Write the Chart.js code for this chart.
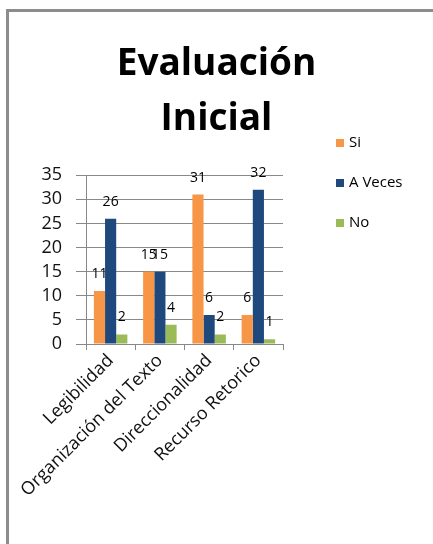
<!DOCTYPE html>
<html>
<head>
<meta charset="utf-8">
<script src="https://cdn.jsdelivr.net/npm/chart.js@4/dist/chart.umd.min.js"></script>
<style>
  body { margin: 0; background: #fff; }
  #wrap { position: relative; width: 433px; height: 544px; overflow: hidden; }
  #frame { position: absolute; left: 6px; top: 9px; width: 440px; height: 550px;
           border-top: 3px solid #8c8c8c; border-left: 3px solid #8c8c8c; pointer-events: none; }
  canvas { position: absolute; left: 0; top: 0; }
</style>
</head>
<body>
<div id="wrap">
  <canvas id="chart" width="433" height="544"></canvas>
  <div id="frame"></div>
</div>
<script>
// datos del grafico
const categorias = ['Legibilidad', 'Organización del Texto', 'Direccionalidad', 'Recurso Retorico'];
const valoresSi = [11, 15, 31, 6];
const valoresAVeces = [26, 15, 6, 32];
const valoresNo = [2, 4, 2, 1];
const nombresSeries = ['Si', 'A Veces', 'No'];
const coloresSeries = ['#f79646', '#1f497d', '#9bbb59'];
const ticksY = [0, 5, 10, 15, 20, 25, 30, 35];

const fuente = "'Open Sans', 'Liberation Sans', sans-serif";

// etiquetas encima de cada barra
const etiquetasBarras = {
    id: 'etiquetasBarras',
    afterDatasetsDraw(chart) {
        const ctx = chart.ctx;
        ctx.save();
        ctx.font = '14px ' + fuente;
        ctx.fillStyle = '#000';
        ctx.textAlign = 'center';
        ctx.textBaseline = 'middle';
        chart.data.datasets.forEach((ds, i) => {
            chart.getDatasetMeta(i).data.forEach((bar, j) => {
                ctx.fillText(ds.data[j], bar.x, bar.y - 17);
            });
        });
        ctx.restore();
    }
};

// leyenda a la derecha, arriba
const leyenda = {
    id: 'leyenda',
    afterDraw(chart) {
        const ctx = chart.ctx;
        ctx.save();
        ctx.font = '15px ' + fuente;
        ctx.textBaseline = 'middle';
        chart.data.datasets.forEach((ds, i) => {
            const y = 143 + i * 40;
            ctx.fillStyle = ds.backgroundColor;
            ctx.fillRect(336, y - 4, 8, 8);
            ctx.fillStyle = '#000';
            ctx.fillText(ds.label, 349, y);
        });
        ctx.restore();
    }
};

const ctx = document.getElementById('chart').getContext('2d');

new Chart(ctx, {
    type: 'bar',
    data: {
        labels: categorias,
        datasets: [valoresSi, valoresAVeces, valoresNo].map((vals, i) => ({
            label: nombresSeries[i],
            data: vals,
            backgroundColor: coloresSeries[i],
            borderWidth: 0,
            barPercentage: 1,
            categoryPercentage: 0.68
        }))
    },
    options: {
        responsive: false,
        animation: false,
        layout: {
            padding: { left: 0, right: 0, top: 0, bottom: 43 }
        },
        plugins: {
            legend: { display: false },
            tooltip: { enabled: false },
            title: {
                display: true,
                text: ['Evaluación', 'Inicial'],
                color: '#000',
                font: { family: fuente, size: 37, weight: 'bold', lineHeight: 1.49 },
                padding: { top: 37, bottom: 28 }
            }
        },
        scales: {
            x: {
                grid: {
                    offset: true,
                    drawOnChartArea: false,
                    drawTicks: true,
                    tickLength: 6,
                    color: '#888'
                },
                border: { color: '#888' },
                ticks: {
                    color: '#111',
                    font: { family: fuente, size: 18 },
                    maxRotation: 45,
                    minRotation: 45,
                    padding: 0
                }
            },
            y: {
                min: 0,
                max: 35,
                afterBuildTicks(axis) {
                    axis.ticks = ticksY.map(v => ({ value: v }));
                },
                afterFit(axis) {
                    axis.width = 86;
                },
                grid: {
                    color: '#888',
                    tickLength: 10
                },
                border: { color: '#888' },
                ticks: {
                    color: '#111',
                    font: { family: fuente, size: 18 },
                    padding: 14,
                    autoSkip: false
                }
            },
            // eje vacio para dejar sitio a la leyenda
            derecha: {
                type: 'linear',
                position: 'right',
                min: 0,
                max: 1,
                afterFit(axis) {
                    axis.width = 150;
                },
                grid: { display: false },
                border: { display: false },
                ticks: { display: false }
            }
        }
    },
    plugins: [etiquetasBarras, leyenda]
});
</script>
</body>
</html>
